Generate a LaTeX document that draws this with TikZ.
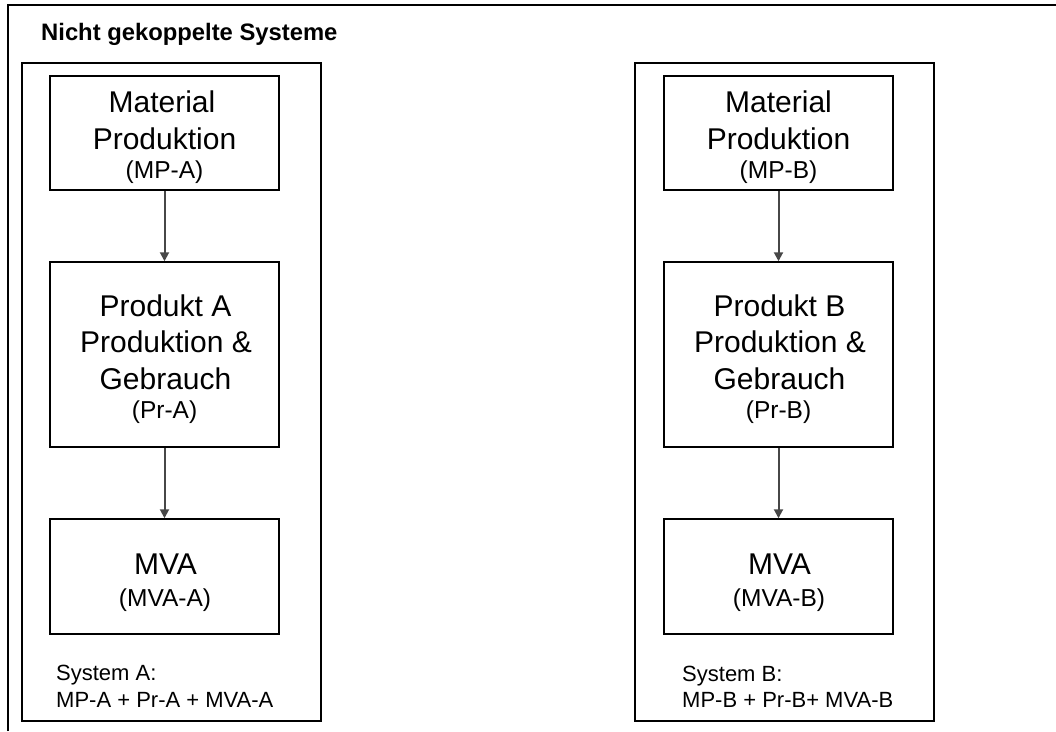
\documentclass[tikz,border=0pt]{standalone}
\usepackage{fontspec}
\setmainfont{Liberation Sans}
\usetikzlibrary{arrows.meta}
\begin{document}
\begin{tikzpicture}[x=1pt,y=-1pt,
  frameline/.style={line width=1.3pt,draw=black},
  sysbox/.style={draw=black,line width=1.3pt,rectangle,inner sep=0pt,
    minimum width=299pt,minimum height=658pt},
  stepbox/.style={draw=black,line width=1.5pt,rectangle,inner sep=0pt,
    minimum width=229pt},
  bigtext/.style={anchor=base,inner sep=0pt,font=\fontsize{30}{36}\selectfont},
  smalltext/.style={anchor=base,inner sep=0pt,font=\fontsize{24.5}{29}\selectfont},
  systext/.style={anchor=base west,inner sep=0pt,font=\fontsize{22}{27}\selectfont},
  flow/.style={draw=black!72,line width=2pt,-{Triangle[length=9pt,width=9pt]}}
]
\useasboundingbox (0,0) rectangle (1056,731);

% outer frame (top and left edges)
\draw[frameline] (8,731) -- (8,5) -- (1056,5);

% heading
\node[anchor=base west,inner sep=0pt,font=\bfseries\fontsize{23.8}{28}\selectfont]
  (title) at (41,40.7) {Nicht gekoppelte Systeme};

% system frames
\node[sysbox] (sysA) at (171.5,392) {};
\node[sysbox] (sysB) at (784.5,392) {};

% ---- System A ----
\node[stepbox,minimum height=114pt] (mpA) at (164.5,133) {};
\node[stepbox,minimum height=185pt] (prA) at (164.5,354.5) {};
\node[stepbox,minimum height=115pt] (mvaA) at (164.5,576.5) {};

\node[bigtext] (mpA1) at (162,112.7) {Material};
\node[bigtext] (mpA2) at (164.5,149.3) {Produktion};
\node[smalltext] (mpA3) at (164.5,178.5) {(MP-A)};

\node[bigtext] (prA1) at (165.5,316.3) {Produkt A};
\node[bigtext] (prA2) at (166,352.7) {Produktion \&};
\node[bigtext] (prA3) at (165.5,389.3) {Gebrauch};
\node[smalltext] (prA4) at (164.5,418.7) {(Pr-A)};

\node[bigtext] (mvaA1) at (165.5,574) {MVA};
\node[smalltext] (mvaA2) at (165,606.3) {(MVA-A)};

\node[systext] (sumA1) at (56,680.7) {System A:};
\node[systext] (sumA2) at (56,707.7) {MP-A + Pr-A + MVA-A};

\draw[flow] (mpA) -- (prA);
\draw[flow] (prA) -- (mvaA);

% ---- System B ----
\node[stepbox,minimum height=114pt] (mpB) at (778.5,133) {};
\node[stepbox,minimum height=185pt] (prB) at (778.5,354.5) {};
\node[stepbox,minimum height=115pt] (mvaB) at (778.5,576.5) {};

\node[bigtext] (mpB1) at (778.5,112.7) {Material};
\node[bigtext] (mpB2) at (778.5,149.3) {Produktion};
\node[smalltext] (mpB3) at (778.5,178.5) {(MP-B)};

\node[bigtext] (prB1) at (779.5,316.3) {Produkt B};
\node[bigtext] (prB2) at (780,352.7) {Produktion \&};
\node[bigtext] (prB3) at (779.5,389.3) {Gebrauch};
\node[smalltext] (prB4) at (778.5,418.7) {(Pr-B)};

\node[bigtext] (mvaB1) at (779.5,574) {MVA};
\node[smalltext] (mvaB2) at (779,606.3) {(MVA-B)};

\node[systext] (sumB1) at (682,681) {System B:};
\node[systext] (sumB2) at (682,707.7) {MP-B + Pr-B+ MVA-B};

\draw[flow] (mpB) -- (prB);
\draw[flow] (prB) -- (mvaB);
\end{tikzpicture}
\end{document}
